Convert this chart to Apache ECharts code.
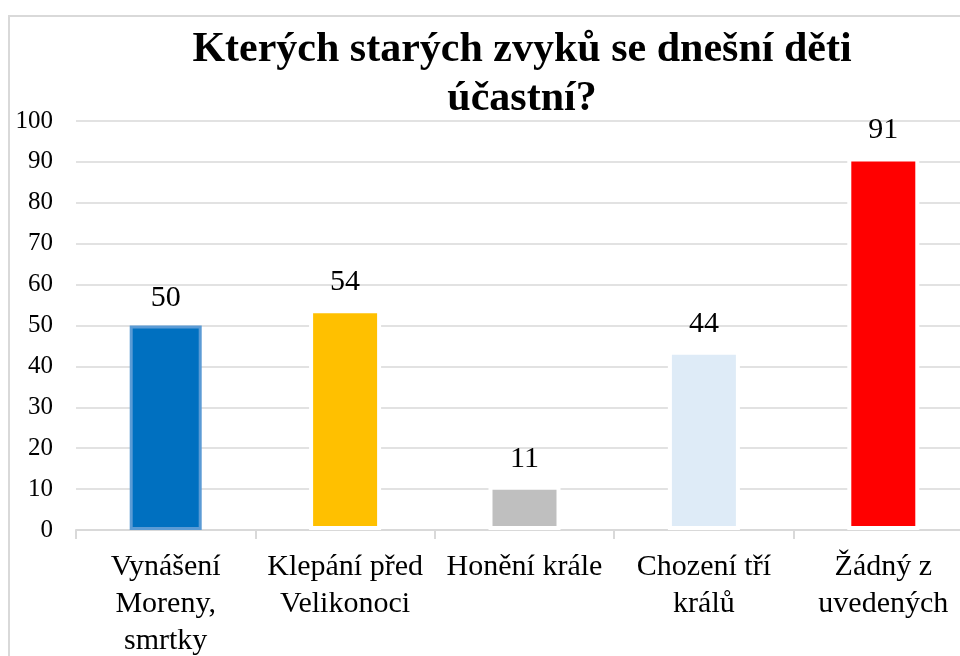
<!DOCTYPE html>
<html>
<head>
<meta charset="utf-8">
<script src="https://cdn.jsdelivr.net/npm/echarts@6/dist/echarts.min.js"></script>
<style>html,body{margin:0;padding:0;background:#fff}#c{width:960px;height:656px}</style>
</head>
<body>
<div id="c"></div>
<script>
const titleText = 'Kterých starých zvyků se dnešní děti\núčastní?';
const categories = ['Vynášení\nMoreny,\nsmrtky', 'Klepání před\nVelikonoci', 'Honění krále', 'Chození tří\nkrálů', 'Žádný z\nuvedených'];
const values = [50, 54, 10.8, 43.8, 91.1];
const barColors = ['#0070C0', '#FFC000', '#BFBFBF', '#DEEBF7', '#FF0000'];
const barBorders = ['#5B9BD5', '#FFFFFF', '#FFFFFF', '#FFFFFF', '#FFFFFF'];
const yTicks = {min: 0, max: 100, interval: 10};

const FONT = "'Liberation Serif', 'Times New Roman', serif";
const chart = echarts.init(document.getElementById('c'), null, {renderer: 'canvas'});
chart.setOption({
  animation: false,
  backgroundColor: '#fff',
  graphic: [{
    type: 'rect', z: -10, silent: true,
    shape: {x: 9, y: 16, width: 1000, height: 700},
    style: {fill: '#fff', stroke: '#D9D9D9', lineWidth: 2}
  }],
  title: {
    text: titleText,
    left: 517, textAlign: 'center', top: 21,
    textStyle: {fontFamily: FONT, fontWeight: 'bold', fontSize: 42, lineHeight: 49, color: '#000'}
  },
  grid: {left: 76, top: 121, width: 897, height: 409, containLabel: false, outerBoundsMode: 'none'},
  xAxis: {
    type: 'category',
    data: categories,
    axisLine: {show: true, lineStyle: {color: '#D9D9D9', width: 2}},
    axisTick: {show: true, length: 9, interval: 0, lineStyle: {color: '#D9D9D9', width: 2}},
    axisLabel: {interval: 0, margin: 19, fontFamily: FONT, fontSize: 30, lineHeight: 37, color: '#000'}
  },
  yAxis: {
    type: 'value',
    min: yTicks.min, max: yTicks.max, interval: yTicks.interval,
    axisLine: {show: false},
    axisTick: {show: false},
    splitLine: {lineStyle: {color: '#D9D9D9', width: 1.5}},
    axisLabel: {margin: 23, fontFamily: FONT, fontSize: 25, color: '#000'}
  },
  series: [{
    type: 'bar',
    barWidth: 72,
    data: values.map((v, i) => ({
      value: v,
      itemStyle: {color: barColors[i], borderColor: barBorders[i], borderWidth: i === 0 ? 3 : 4}
    })),
    label: {
      show: true, position: 'top', distance: 12,
      fontFamily: FONT, fontSize: 30, color: '#000',
      formatter: p => Math.round(p.value)
    }
  }]
});
</script>
</body>
</html>
